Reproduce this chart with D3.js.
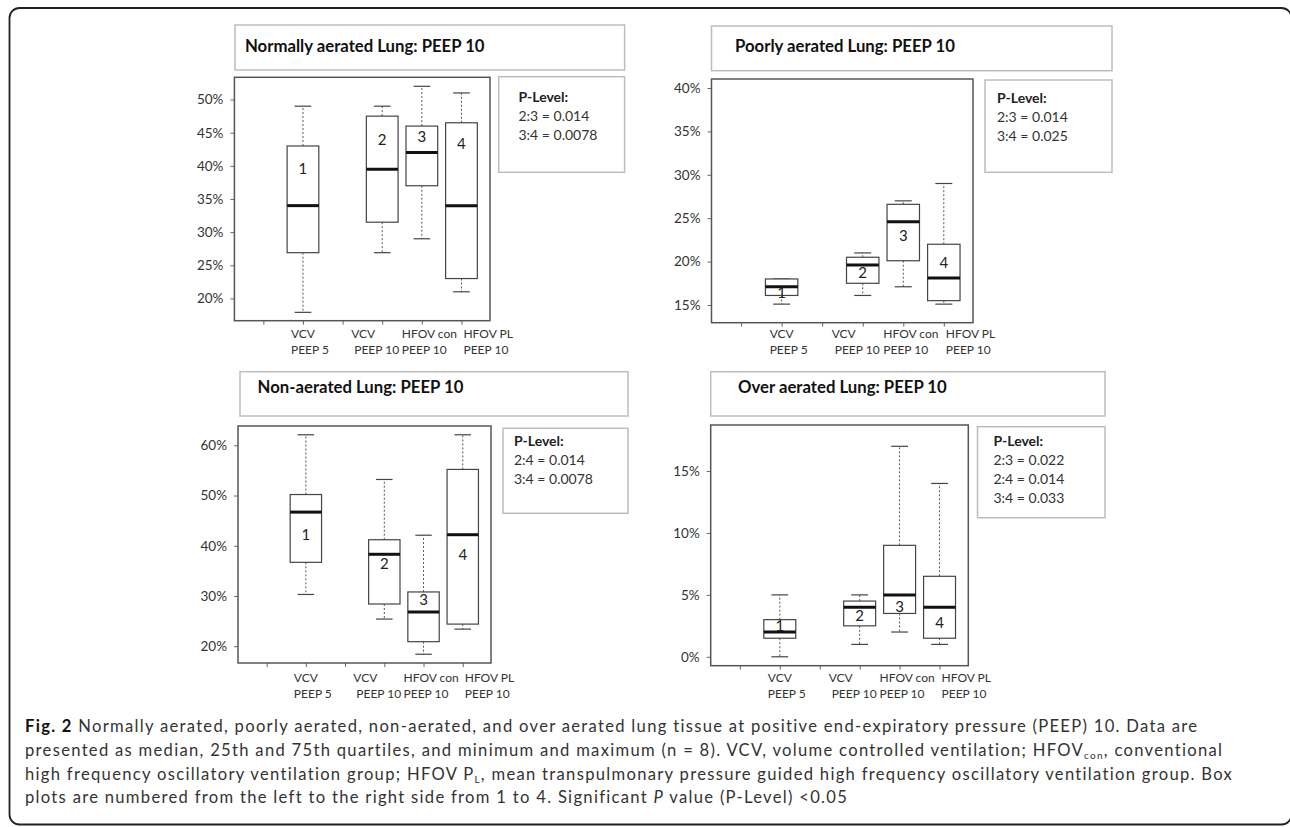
<!DOCTYPE html>
<html>
<head>
<meta charset="utf-8">
<script src="https://cdnjs.cloudflare.com/ajax/libs/d3/7.8.5/d3.min.js"></script>
<style>
  body { margin: 0; background: #fff; }
  text { font-family: Lato, "Open Sans", sans-serif; }
</style>
</head>
<body>
<div id="chart"></div>
<script>
// x slot of each group (slot 2 stays empty, like the original)
var groupPos = [1, 3, 4, 5];
var boxNumbers = ["1", "2", "3", "4"];
var groupLine1 = ["VCV", "VCV", "HFOV con", "HFOV PL"];
var groupLine2 = ["PEEP 5", "PEEP 10", "PEEP 10", "PEEP 10"];

var titles = [
  "Normally aerated Lung: PEEP 10",
  "Poorly aerated Lung: PEEP 10",
  "Non-aerated Lung: PEEP 10",
  "Over aerated Lung: PEEP 10"
];

// [min, q1, median, q3, max] per group, in %
var normalStats = [[17.9, 26.9, 34, 43, 49], [26.9, 31.5, 39.5, 47.5, 49], [29, 37, 42, 46, 52], [21, 23, 34, 46.5, 51]];
var poorStats = [[15.1, 16.1, 17.1, 18, 18], [16.1, 17.5, 19.6, 20.5, 21], [17.1, 20.1, 24.6, 26.6, 27], [15.1, 15.5, 18.1, 22, 29]];
var nonStats = [[30.3, 36.7, 46.7, 50.2, 62.1], [25.4, 28.4, 38.3, 41.2, 53.2], [18.4, 20.9, 26.8, 30.8, 42.1], [23.4, 24.4, 42.2, 55.2, 62.1]];
var overStats = [[0, 1.5, 2, 3, 5], [1, 2.5, 4, 4.5, 5], [2, 3.5, 5, 9, 17], [1, 1.5, 4, 6.5, 14]];

// height (in %) where each box number is written
var normalNumAt = [39.6, 44.0, 44.4, 43.3];
var poorNumAt = [16.4, 18.7, 23.0, 19.9];
var nonNumAt = [42.3, 36.4, 29.3, 38.2];
var overNumAt = [2.5, 3.3, 4.1, 2.8];

var normalTicks = [20, 25, 30, 35, 40, 45, 50];
var poorTicks = [15, 20, 25, 30, 35, 40];
var nonTicks = [20, 30, 40, 50, 60];
var overTicks = [0, 5, 10, 15];

var normalYLim = [18, 52];
var poorYLim = [14, 40];
var nonYLim = [18.4, 62.1];
var overYLim = [0, 18];

var normalP = ["2:3 = 0.014", "3:4 = 0.0078"];
var poorP = ["2:3 = 0.014", "3:4 = 0.025"];
var nonP = ["2:4 = 0.014", "3:4 = 0.0078"];
var overP = ["2:3 = 0.022", "2:4 = 0.014", "3:4 = 0.033"];

var width = 1290, height = 827;

var svg = d3.select("#chart").append("svg")
    .attr("width", width)
    .attr("height", height);

// outer frame (right side runs off the picture)
svg.append("rect")
    .attr("x", 9.5).attr("y", 8)
    .attr("width", 1282).attr("height", 816.5)
    .attr("rx", 10)
    .attr("fill", "none")
    .attr("stroke", "#222")
    .attr("stroke-width", 1.8);

var panels = [
  { title: titles[0], stats: normalStats, numAt: normalNumAt, ticks: normalTicks, ylim: normalYLim, p: normalP,
    tbox: [235, 25, 624.6, 70], tx: 245, ty: 51.7, tw: 240,
    plot: [234.4, 77.3, 490, 320.7],
    pbox: [498.7, 76.7, 624.6, 172.3], px: 518.5, py: 102.3, lab: 337.5 },
  { title: titles[1], stats: poorStats, numAt: poorNumAt, ticks: poorTicks, ylim: poorYLim, p: poorP,
    tbox: [711.5, 26, 1112, 70.7], tx: 735, ty: 51.7, tw: 221.5,
    plot: [711.5, 79, 973, 322.7],
    pbox: [985, 80, 1112, 172.3], px: 997, py: 103.3, lab: 337.5 },
  { title: titles[2], stats: nonStats, numAt: nonNumAt, ticks: nonTicks, ylim: nonYLim, p: nonP,
    tbox: [240, 371.7, 628, 416], tx: 257.6, ty: 393.3, tw: 204.5,
    plot: [238, 426, 491, 663],
    pbox: [503, 428.3, 628, 513.3], px: 514, py: 446, lab: 682 },
  { title: titles[3], stats: overStats, numAt: overNumAt, ticks: overTicks, ylim: overYLim, p: overP,
    tbox: [710.7, 371.7, 1105, 416], tx: 738, ty: 393.3, tw: 208.4,
    plot: [710.7, 425, 968.3, 665.7],
    pbox: [977.5, 426.7, 1105, 517.7], px: 993.5, py: 446, lab: 682 }
];

// horizontal nudge of the two-line group labels, px
var labelDx = [-12, -31, -20, 2];

var titleNodes = panels.map(drawPanel);

// one common title size, sized so the titles span what they do in the figure
var ratio = d3.mean(titleNodes, function(t, i) {
  return panels[i].tw / t.node().getComputedTextLength();
});
titleNodes.forEach(function(t) { t.attr("font-size", 16 * ratio); });

function drawPanel(c) {
  var g = svg.append("g");

  // title box
  g.append("rect")
      .attr("x", c.tbox[0]).attr("y", c.tbox[1])
      .attr("width", c.tbox[2] - c.tbox[0]).attr("height", c.tbox[3] - c.tbox[1])
      .attr("fill", "none").attr("stroke", "#bdbdbd").attr("stroke-width", 1.5);
  var t = g.append("text")
      .attr("x", c.tx).attr("y", c.ty)
      .attr("font-size", 16).attr("font-weight", "bold").attr("fill", "#111")
      .text(c.title);

  // p-level box
  g.append("rect")
      .attr("x", c.pbox[0]).attr("y", c.pbox[1])
      .attr("width", c.pbox[2] - c.pbox[0]).attr("height", c.pbox[3] - c.pbox[1])
      .attr("fill", "none").attr("stroke", "#bdbdbd").attr("stroke-width", 1.5);
  g.append("text")
      .attr("x", c.px).attr("y", c.py)
      .attr("font-size", 14).attr("font-weight", "bold").attr("fill", "#222")
      .text("P-Level:");
  c.p.forEach(function(s, i) {
    g.append("text")
        .attr("x", c.px).attr("y", c.py + 19 * (i + 1))
        .attr("font-size", 14).attr("fill", "#333")
        .text(s);
  });

  var pad = (c.ylim[1] - c.ylim[0]) * 0.04;
  var y = d3.scaleLinear()
      .domain([c.ylim[0] - pad, c.ylim[1] + pad])
      .range([c.plot[3], c.plot[1]]);
  var x = d3.scaleLinear()
      .domain([-0.73, 5.72])
      .range([c.plot[0], c.plot[2]]);

  // y axis
  var yAxis = d3.axisLeft(y).tickValues(c.ticks).tickSize(4).tickPadding(7)
      .tickFormat(function(d) { return d + "%"; });
  var ya = g.append("g").attr("transform", "translate(" + c.plot[0] + ",0)").call(yAxis);
  ya.select(".domain").remove();
  ya.selectAll("line").attr("stroke", "#666");
  ya.selectAll("text").attr("font-size", 13.5).attr("fill", "#333")
      .attr("font-family", "Lato, sans-serif");

  // x axis ticks
  var xAxis = d3.axisBottom(x).tickValues([0, 1, 2, 3, 4, 5]).tickSize(4).tickFormat("");
  var xa = g.append("g").attr("transform", "translate(0," + c.plot[3] + ")").call(xAxis);
  xa.select(".domain").remove();
  xa.selectAll("line").attr("stroke", "#666");

  // plot frame
  g.append("rect")
      .attr("x", c.plot[0]).attr("y", c.plot[1])
      .attr("width", c.plot[2] - c.plot[0]).attr("height", c.plot[3] - c.plot[1])
      .attr("fill", "none").attr("stroke", "#555").attr("stroke-width", 1.5);

  var bw = x(0.8) - x(0), cw = x(0.42) - x(0);

  var boxes = g.selectAll("g.box").data(c.stats).enter().append("g").attr("class", "box");

  // whiskers
  boxes.append("line")
      .attr("x1", function(d, i) { return x(groupPos[i]); })
      .attr("x2", function(d, i) { return x(groupPos[i]); })
      .attr("y1", function(d) { return y(d[3]); })
      .attr("y2", function(d) { return y(d[4]); })
      .attr("stroke", "#555").attr("stroke-dasharray", "2,2");
  boxes.append("line")
      .attr("x1", function(d, i) { return x(groupPos[i]); })
      .attr("x2", function(d, i) { return x(groupPos[i]); })
      .attr("y1", function(d) { return y(d[1]); })
      .attr("y2", function(d) { return y(d[0]); })
      .attr("stroke", "#555").attr("stroke-dasharray", "2,2");
  // caps
  [0, 4].forEach(function(k) {
    boxes.append("line")
        .attr("x1", function(d, i) { return x(groupPos[i]) - cw / 2; })
        .attr("x2", function(d, i) { return x(groupPos[i]) + cw / 2; })
        .attr("y1", function(d) { return y(d[k]); })
        .attr("y2", function(d) { return y(d[k]); })
        .attr("stroke", "#444").attr("stroke-width", 1.2);
  });
  // box
  boxes.append("rect")
      .attr("x", function(d, i) { return x(groupPos[i]) - bw / 2; })
      .attr("y", function(d) { return y(d[3]); })
      .attr("width", bw)
      .attr("height", function(d) { return y(d[1]) - y(d[3]); })
      .attr("fill", "#fff").attr("stroke", "#444").attr("stroke-width", 1.2);
  // median
  boxes.append("line")
      .attr("x1", function(d, i) { return x(groupPos[i]) - bw / 2; })
      .attr("x2", function(d, i) { return x(groupPos[i]) + bw / 2; })
      .attr("y1", function(d) { return y(d[2]); })
      .attr("y2", function(d) { return y(d[2]); })
      .attr("stroke", "#111").attr("stroke-width", 3);
  // box numbers
  boxes.append("text")
      .attr("x", function(d, i) { return x(groupPos[i]); })
      .attr("y", function(d, i) { return y(c.numAt[i]) + 5.5; })
      .attr("text-anchor", "middle")
      .attr("font-size", 15).attr("fill", "#222")
      .text(function(d, i) { return boxNumbers[i]; });

  // group labels
  groupPos.forEach(function(p, i) {
    g.append("text")
        .attr("x", x(p) + labelDx[i]).attr("y", c.lab)
        .attr("font-size", 12).attr("fill", "#333")
        .text(groupLine1[i]);
    g.append("text")
        .attr("x", x(p) + labelDx[i] + (i == 1 ? 3 : 0)).attr("y", c.lab + 16)
        .attr("font-size", 12).attr("fill", "#333")
        .text(groupLine2[i]);
  });

  return t;
}

// caption
var cap = svg.append("g")
    .attr("fill", "#333")
    .style("font-family", "'Open Sans', sans-serif")
    .style("font-size", "16.6px");

var l1 = cap.append("text").attr("x", 25).attr("y", 731.5);
l1.append("tspan").attr("font-weight", "bold").attr("fill", "#111").text("Fig. 2");
l1.append("tspan").text(" Normally aerated, poorly aerated, non-aerated, and over aerated lung tissue at positive end-expiratory pressure (PEEP) 10. Data are");

var l2 = cap.append("text").attr("x", 25).attr("y", 755.5);
l2.append("tspan").text("presented as median, 25th and 75th quartiles, and minimum and maximum (n = 8). VCV, volume controlled ventilation; HFOV");
l2.append("tspan").style("font-size", "0.6em").attr("dy", 3).text("con");
l2.append("tspan").attr("dy", -3).text(", conventional");

var l3 = cap.append("text").attr("x", 25).attr("y", 779.5);
l3.append("tspan").text("high frequency oscillatory ventilation group; HFOV P");
l3.append("tspan").style("font-size", "0.6em").attr("dy", 3).text("L");
l3.append("tspan").attr("dy", -3).text(", mean transpulmonary pressure guided high frequency oscillatory ventilation group. Box");

var l4 = cap.append("text").attr("x", 25).attr("y", 803);
l4.append("tspan").text("plots are numbered from the left to the right side from 1 to 4. Significant ");
l4.append("tspan").attr("font-style", "italic").text("P");
l4.append("tspan").text(" value (P-Level) <0.05");

// first caption line runs from x 25 to about x 1199 in the figure:
// keep the type a little smaller and make up the width with letter spacing
var n1 = l1.text().length;
var spacing = (1174 - l1.node().getComputedTextLength()) / n1;
cap.style("letter-spacing", spacing + "px");
</script>
</body>
</html>
